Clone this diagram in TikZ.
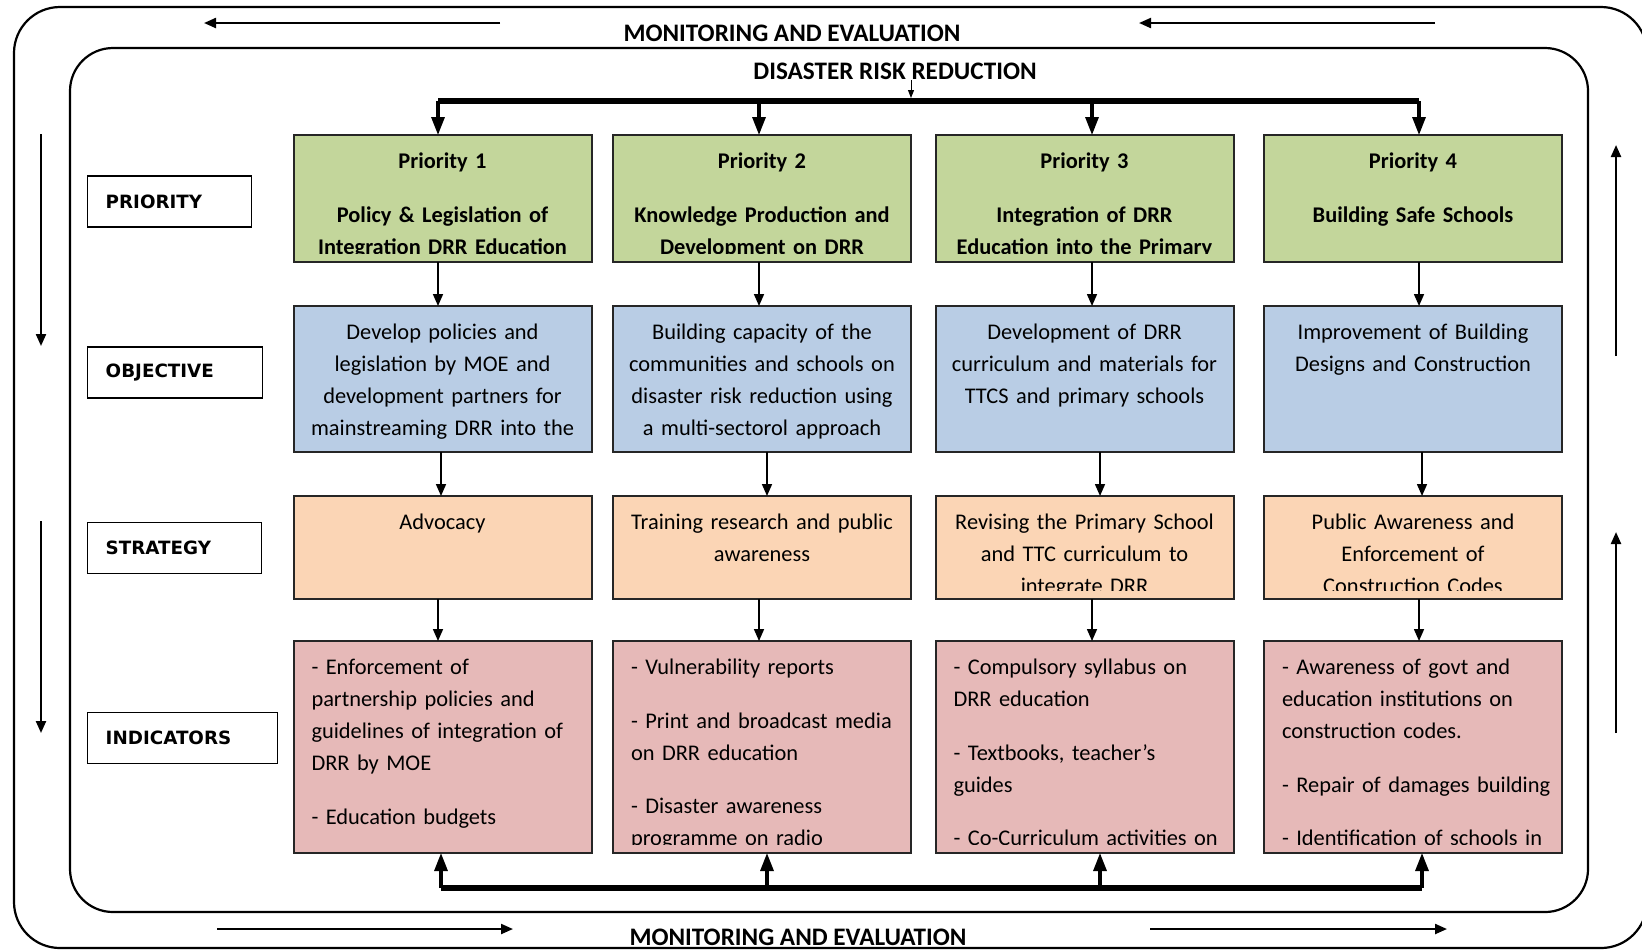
\documentclass[tikz,border=0pt]{standalone}
\usepackage{fontspec}
\setmainfont{Carlito}
\newfontfamily\labfont{DejaVu Sans}
\usetikzlibrary{positioning,arrows.meta}
\definecolor{prioc}{HTML}{C3D69B}
\definecolor{objc}{HTML}{B9CDE5}
\definecolor{stratc}{HTML}{FBD5B5}
\definecolor{indc}{HTML}{E6B9B8}

\begin{document}
\begin{tikzpicture}[x=0.5pt,y=-0.5pt,node distance=22pt,
  cell/.style={draw=black!85,line width=1pt,outer sep=0pt,minimum width=149pt},
  prio/.style={cell,fill=prioc,minimum height=63.5pt},
  obj/.style={cell,fill=objc,minimum height=73pt},
  strat/.style={cell,fill=stratc,minimum height=51.5pt},
  ind/.style={cell,fill=indc,minimum height=106pt},
  intext/.style={draw=none,fill=none,inner sep=0pt,minimum width=0pt,minimum height=0pt,text width=140pt,font=\fontsize{11.2}{16}\selectfont},
  ctext/.style={path picture={
    \clip ([yshift=4.5pt]path picture bounding box.south west) rectangle (path picture bounding box.north east);
    \node[intext,align=center,anchor=north] at ([yshift=-5.6pt]path picture bounding box.north) {\strut#1};}},
  ptext/.style={ctext={\bfseries#1}},
  ltext/.style={path picture={
    \clip ([yshift=4.5pt]path picture bounding box.south west) rectangle (path picture bounding box.north east);
    \node[intext,align=left,anchor=north west] at ([xshift=9pt,yshift=-5.6pt]path picture bounding box.north west) {\strut#1};}},
  rowlab/.style={draw,line width=0.7pt,anchor=west,align=left,inner xsep=9pt,minimum height=25.5pt,text width=#1,font=\labfont\bfseries\fontsize{9.15}{11}\selectfont},
  banner/.style={inner sep=0pt,font=\bfseries\fontsize{12.6}{15}\selectfont},
  rim/.style={line width=1.1pt},
  bus/.style={line width=2.8pt},
  fat/.style={line width=1.6pt,-{Triangle[length=9pt,width=6.5pt]}},
  link/.style={line width=0.8pt,-{Triangle[length=6pt,width=5pt]}},
  thinlink/.style={line width=0.5pt,-{Triangle[length=4pt,width=3pt]}},
  flow/.style={line width=1.1pt,-{Triangle[length=6pt,width=5pt]}}]
  \useasboundingbox (0,0) rectangle (1642,950);
  \draw[rim,rounded corners=23pt] (14,7) rectangle (1647,948);
  \draw[rim,rounded corners=21.5pt] (70,48) rectangle (1588,912);

  \node[banner] (me1) at (792,33.5) {MONITORING AND EVALUATION};
  \node[banner] (me2) at (798,937) {MONITORING AND EVALUATION};
  \node[banner] (drr) at (895,71) {DISASTER RISK REDUCTION};

  \node[rowlab=64pt] (lp) at (87,201.5) {PRIORITY};
  \node[rowlab=69.5pt] (lo) at (87,372.5) {OBJECTIVE};
  \node[rowlab=69pt] (ls) at (87,548) {STRATEGY};
  \node[rowlab=77pt] (li) at (87,738) {INDICATORS};

  \node[prio,ptext={Priority 1\\[10.7pt]Policy \& Legislation of\\Integration DRR Education}] (p1) at (442.5,198.5) {};
  \node[prio,ptext={Priority 2\\[10.7pt]Knowledge Production and\\Development on DRR}] (p2) at (762,198.5) {};
  \node[prio,ptext={Priority 3\\[10.7pt]Integration of DRR\\Education into the Primary}] (p3) at (1084.5,198.5) {};
  \node[prio,ptext={Priority 4\\[10.7pt]Building Safe Schools}] (p4) at (1413,198.5) {};

  \node[obj,below=of p1,ctext={Develop policies and\\legislation by MOE and\\development partners for\\mainstreaming DRR into the}] (o1) {};
  \node[obj,below=of p2,ctext={Building capacity of the\\communities and schools on\\disaster risk reduction using\\a multi-sectorol approach}] (o2) {};
  \node[obj,below=of p3,ctext={Development of DRR\\curriculum and materials for\\TTCS and primary schools}] (o3) {};
  \node[obj,below=of p4,ctext={Improvement of Building\\Designs and Construction}] (o4) {};

  \node[strat,below=of o1,ctext={Advocacy}] (s1) {};
  \node[strat,below=of o2,ctext={Training research and public\\awareness}] (s2) {};
  \node[strat,below=of o3,ctext={Revising the Primary School\\and TTC curriculum to\\integrate DRR}] (s3) {};
  \node[strat,below=of o4,ctext={Public Awareness and\\Enforcement of\\Construction Codes}] (s4) {};

  \node[ind,below=21pt of s1,ltext={- Enforcement of\\partnership policies and\\guidelines of integration of\\DRR by MOE\\[10.7pt]- Education budgets}] (i1) {};
  \node[ind,below=21pt of s2,ltext={- Vulnerability reports\\[10.7pt]- Print and broadcast media\\on DRR education\\[10.7pt]- Disaster awareness\\programme on radio}] (i2) {};
  \node[ind,below=21pt of s3,ltext={- Compulsory syllabus on\\DRR education\\[10.7pt]- Textbooks, teacher’s\\guides\\[10.7pt]- Co-Curriculum activities on}] (i3) {};
  \node[ind,below=21pt of s4,ltext={- Awareness of govt and\\education institutions on\\construction codes.\\[10.7pt]- Repair of damages building\\[10.7pt]- Identification of schools in}] (i4) {};

  \coordinate (t1) at (438,101); \coordinate (t2) at (759,101);
  \coordinate (t3) at (1092,101); \coordinate (t4) at (1419,101);
  \coordinate (u1) at (441,888); \coordinate (u2) at (767,888);
  \coordinate (u3) at (1100,888); \coordinate (u4) at (1422,888);
  \coordinate (dk) at (911,98);

  \draw[thinlink] (drr.south -| dk) -- (dk);
  \draw[bus] (t1) -- (t4); \draw[bus] (u1) -- (u4);
  \draw[fat] (t1) -- (t1 |- p1.north); \draw[fat] (t2) -- (t2 |- p2.north);
  \draw[fat] (t3) -- (t3 |- p3.north); \draw[fat] (t4) -- (t4 |- p4.north);
  \draw[fat] (u1) -- (u1 |- i1.south); \draw[fat] (u2) -- (u2 |- i2.south);
  \draw[fat] (u3) -- (u3 |- i3.south); \draw[fat] (u4) -- (u4 |- i4.south);
  \draw[link] (p1.south -| t1) -- (o1.north -| t1); \draw[link] (p2.south -| t2) -- (o2.north -| t2);
  \draw[link] (p3.south -| t3) -- (o3.north -| t3); \draw[link] (p4.south -| t4) -- (o4.north -| t4);
  \draw[link] (o1.south -| u1) -- (s1.north -| u1); \draw[link] (o2.south -| u2) -- (s2.north -| u2);
  \draw[link] (o3.south -| u3) -- (s3.north -| u3); \draw[link] (o4.south -| u4) -- (s4.north -| u4);
  \draw[link] (s1.south -| t1) -- (i1.north -| t1); \draw[link] (s2.south -| t2) -- (i2.north -| t2);
  \draw[link] (s3.south -| t3) -- (i3.north -| t3); \draw[link] (s4.south -| t4) -- (i4.north -| t4);

  \draw[flow] (500,23) -- (204,23); \draw[flow] (1435,23) -- (1139,23);
  \draw[flow] (217,929) -- (513,929); \draw[flow] (1150,929) -- (1447,929);
  \draw[flow] (41,134) -- (41,346); \draw[flow] (41,521) -- (41,733);
  \draw[flow] (1616,356) -- (1616,145); \draw[flow] (1616,733) -- (1616,532);
\end{tikzpicture}
\end{document}
